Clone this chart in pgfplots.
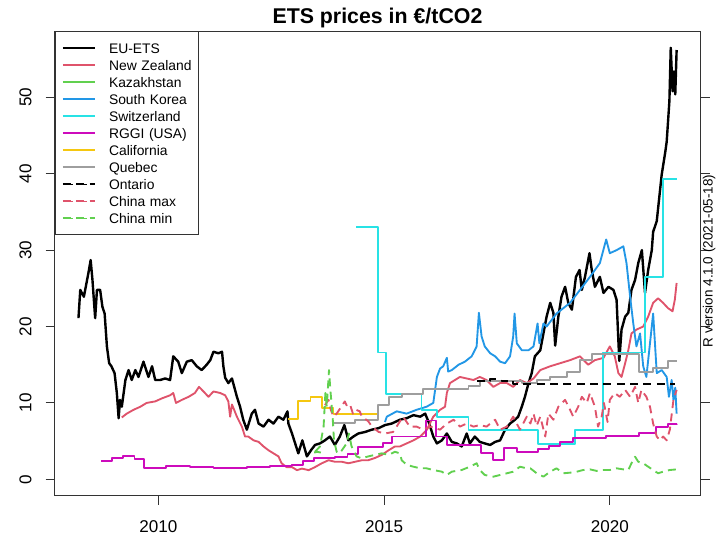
\documentclass[border=0pt]{standalone}
\usepackage{fontspec}
\setmainfont{Liberation Sans}
\usepackage{pgfplots}
\pgfplotsset{compat=1.18}
\definecolor{cNZ}{HTML}{DF536B}
\definecolor{cKZ}{HTML}{61D04F}
\definecolor{cKR}{HTML}{2297E6}
\definecolor{cCH}{HTML}{28E2E5}
\definecolor{cRG}{HTML}{CD0BBC}
\definecolor{cCA}{HTML}{F5C710}
\definecolor{cQC}{HTML}{9E9E9E}
\newcommand\tickfont{\fontsize{12.8}{15}\selectfont}
\begin{document}
\begin{tikzpicture}
\useasboundingbox (0,0) rectangle (537pt,402pt);
\begin{axis}[
  at={(40.9pt,30.2pt)}, anchor=south west,
  width=484.5pt, height=348.5pt, scale only axis,
  xmin=2007.70, xmax=2022.01, ymin=-2.15, ymax=58.68,
  axis line style={line width=0.75pt, black!80},
  tick style={line width=0.75pt, black!80},
  tick align=outside, major tick length=6.75pt,
  xtick={2010,2015,2020}, xticklabels={2010,2015,2020},
  ytick={0,10,20,30,40,50}, yticklabels={0,10,20,30,40,50},
  xtick pos=left, ytick pos=both, yticklabel pos=left,
  /pgf/number format/assume math mode=true,
  xticklabel style={font=\tickfont, anchor=north, inner sep=0pt},
  yticklabel style={font=\tickfont, rotate=90, anchor=south, inner sep=0pt},
  xticklabel shift=12pt, yticklabel shift=10.3pt,
  legend cell align=left,
  legend image code/.code={\path (0pt,0pt) -- (24.2pt,0pt); \draw[#1,line width=0.6pt] (4.2pt,0pt) -- (24.2pt,0pt);},
  legend style={at={(0,1)}, anchor=north west, draw=black!80, line width=0.75pt,
    font=\fontsize{10.4}{12}\selectfont, inner xsep=5pt, inner ysep=6.5pt,
    row sep=0.83pt,
    nodes={inner sep=0pt, text height=9.72pt, text depth=2.2pt, text width=62pt, align=left},
    /tikz/every odd column/.append style={column sep=9.5pt}},
  every axis plot/.append style={line width=1.4pt, line join=round},
]
% EU-ETS
\addplot[black, line width=1.8pt] coordinates {
(2008.23,21.1)(2008.27,24.8)(2008.35,23.9)(2008.45,27.0)(2008.50,28.7)(2008.54,26.1)(2008.60,21.1)(2008.64,24.8)
(2008.71,24.8)(2008.76,22.6)(2008.81,21.7)(2008.86,17.4)(2008.91,15.2)(2008.96,14.8)(2009.03,13.9)(2009.08,11.3)
(2009.12,8.0)(2009.15,10.4)(2009.19,9.5)(2009.27,13.0)(2009.34,14.3)(2009.41,13.0)(2009.49,14.3)(2009.56,13.4)
(2009.67,15.4)(2009.78,13.4)(2009.86,14.8)(2009.93,13.0)(2010.04,13.0)(2010.15,13.2)(2010.26,13.0)(2010.33,16.1)
(2010.44,15.4)(2010.52,13.9)(2010.63,15.4)(2010.74,15.6)(2010.85,14.8)(2010.96,14.3)(2011.07,15.0)(2011.15,15.6)
(2011.22,16.7)(2011.33,16.5)(2011.41,16.7)(2011.44,14.8)(2011.48,13.3)(2011.55,12.6)(2011.63,13.2)(2011.74,10.8)
(2011.81,9.5)(2011.88,7.8)(2011.96,6.5)(2012.07,8.6)(2012.14,9.1)(2012.22,7.3)(2012.33,6.9)(2012.44,7.8)
(2012.55,7.3)(2012.66,8.2)(2012.77,7.8)(2012.86,8.9)(2012.88,7.3)(2012.96,6.0)(2013.03,4.7)(2013.10,3.4)
(2013.19,5.1)(2013.29,3.0)(2013.38,3.8)(2013.47,4.5)(2013.58,4.7)(2013.69,5.1)(2013.80,5.6)(2013.91,4.5)
(2014.02,5.6)(2014.12,7.1)(2014.21,5.1)(2014.32,5.6)(2014.43,6.0)(2014.58,6.2)(2014.73,6.5)(2014.88,6.7)
(2015.02,7.1)(2015.17,7.3)(2015.35,7.8)(2015.50,8.0)(2015.65,8.4)(2015.80,8.2)(2015.91,8.6)(2016.00,7.3)
(2016.09,5.6)(2016.17,4.7)(2016.28,5.1)(2016.39,6.0)(2016.50,4.9)(2016.61,4.7)(2016.72,4.3)(2016.83,6.0)
(2016.90,4.7)(2017.01,5.6)(2017.12,4.9)(2017.23,4.7)(2017.35,4.5)(2017.46,4.9)(2017.57,5.1)(2017.68,6.5)
(2017.79,7.3)(2017.90,7.8)(2017.97,8.2)(2018.05,9.5)(2018.12,10.8)(2018.20,12.6)(2018.27,13.9)(2018.34,16.1)
(2018.46,16.9)(2018.53,19.1)(2018.60,21.3)(2018.68,23.1)(2018.75,21.8)(2018.79,17.5)(2018.86,21.3)(2018.93,23.9)
(2019.01,25.2)(2019.08,23.1)(2019.16,22.2)(2019.25,26.5)(2019.33,27.4)(2019.38,24.8)(2019.45,26.5)(2019.55,29.6)
(2019.60,27.4)(2019.67,25.2)(2019.78,26.5)(2019.86,24.4)(2019.97,25.2)(2020.08,24.8)(2020.15,23.5)(2020.21,15.5)
(2020.26,19.6)(2020.34,21.3)(2020.41,21.8)(2020.48,24.8)(2020.56,26.1)(2020.63,28.3)(2020.71,30.0)(2020.78,24.4)
(2020.85,27.4)(2020.93,30.0)(2020.96,32.4)(2021.04,33.8)(2021.11,37.7)(2021.15,39.9)(2021.23,42.9)(2021.26,44.2)
(2021.32,49.5)(2021.35,56.5)(2021.39,50.8)(2021.42,53.4)(2021.45,50.4)(2021.48,56.2)};
\addlegendentry{EU-ETS}
% New Zealand
\addplot[cNZ] coordinates {
(2009.19,8.1)(2009.30,8.6)(2009.45,9.1)(2009.60,9.5)(2009.74,10.0)(2009.93,10.2)(2010.08,10.6)(2010.26,11.0)
(2010.33,11.3)(2010.39,10.0)(2010.52,10.4)(2010.67,10.8)(2010.81,11.3)(2010.90,12.1)(2011.00,11.5)(2011.11,10.8)
(2011.22,11.5)(2011.37,11.3)(2011.48,11.0)(2011.55,10.2)(2011.59,8.2)(2011.63,9.8)(2011.74,8.2)(2011.85,6.9)
(2011.92,5.6)(2011.99,5.6)(2012.11,5.1)(2012.22,4.9)(2012.33,4.3)(2012.44,3.8)(2012.55,3.4)(2012.66,3.0)
(2012.73,2.1)(2012.84,1.6)(2012.96,1.6)(2013.07,1.2)(2013.18,1.4)(2013.33,1.2)(2013.47,1.6)(2013.62,2.1)
(2013.77,2.5)(2013.91,2.3)(2014.06,2.3)(2014.21,2.1)(2014.36,2.3)(2014.51,2.5)(2014.65,2.5)(2014.80,2.8)
(2014.95,3.2)(2015.10,3.8)(2015.24,4.3)(2015.35,4.3)(2015.50,4.7)(2015.65,5.1)(2015.80,5.6)(2015.95,6.5)
(2016.09,8.2)(2016.24,9.1)(2016.35,9.5)(2016.39,11.3)(2016.46,12.6)(2016.57,13.0)(2016.68,13.4)(2016.83,13.2)
(2016.98,13.0)(2017.12,13.4)(2017.27,13.0)(2017.42,12.1)(2017.57,12.6)(2017.72,12.6)(2017.86,12.1)(2018.01,13.0)
(2018.16,12.6)(2018.31,13.2)(2018.46,14.3)(2018.68,14.8)(2018.90,15.2)(2019.12,15.6)(2019.34,16.1)(2019.52,15.0)
(2019.67,15.6)(2019.86,15.9)(2020.00,17.4)(2020.11,16.1)(2020.19,13.9)(2020.26,13.4)(2020.34,15.2)(2020.41,16.9)
(2020.48,19.1)(2020.59,19.6)(2020.74,20.0)(2020.85,21.3)(2020.96,23.1)(2021.07,23.7)(2021.18,23.1)(2021.29,22.4)
(2021.39,22.0)(2021.44,23.5)(2021.48,25.7)};
\addlegendentry{New Zealand}
% Kazakhstan
\addplot[cKZ] coordinates {(2013.45,3.5)(2013.52,3.6)(2013.60,3.5)};
\addlegendentry{Kazakhstan}
% South Korea
\addplot[cKR] coordinates {
(2015.02,7.5)(2015.06,8.2)(2015.28,8.9)(2015.50,8.6)(2015.72,9.1)(2015.94,9.5)(2016.09,10.0)(2016.17,13.4)
(2016.24,14.5)(2016.31,14.8)(2016.39,15.9)(2016.42,14.1)(2016.50,14.3)(2016.65,15.0)(2016.79,15.4)(2016.94,16.1)
(2017.05,17.4)(2017.10,21.8)(2017.16,18.7)(2017.23,17.4)(2017.35,16.5)(2017.46,16.1)(2017.57,15.4)(2017.68,15.2)
(2017.79,16.1)(2017.86,18.7)(2017.89,21.7)(2017.94,17.8)(2018.05,16.9)(2018.20,16.9)(2018.31,17.4)(2018.40,20.4)
(2018.44,17.8)(2018.53,20.4)(2018.60,20.0)(2018.82,21.7)(2019.12,23.1)(2019.34,24.8)(2019.56,26.5)(2019.78,28.3)
(2019.92,31.4)(2020.00,29.6)(2020.15,30.0)(2020.30,30.5)(2020.37,28.3)(2020.45,23.9)(2020.52,20.4)(2020.59,17.4)
(2020.67,19.1)(2020.74,14.8)(2020.81,13.4)(2020.89,17.8)(2020.96,21.7)(2021.04,13.9)(2021.15,14.3)(2021.26,13.4)
(2021.31,10.8)(2021.37,13.0)(2021.41,10.4)(2021.45,12.0)(2021.48,8.6)};
\addlegendentry{South Korea}
% Switzerland
\addplot[cCH, const plot] coordinates {
(2014.38,33.0)(2014.86,16.6)(2015.04,11.2)(2015.83,9.1)(2016.17,8.2)(2016.87,6.4)(2018.40,4.6)(2019.23,6.5)
(2019.84,16.6)(2020.78,26.5)(2021.17,39.3)(2021.48,39.3)};
\addlegendentry{Switzerland}
% RGGI
\addplot[cRG, const plot] coordinates {
(2008.73,2.4)(2008.97,2.75)(2009.21,3.05)(2009.47,2.66)(2009.69,1.44)(2010.17,1.74)(2010.70,1.62)(2011.22,1.48)
(2011.96,1.62)(2012.48,1.74)(2012.95,1.83)(2013.20,2.4)(2013.45,2.83)(2013.91,2.96)(2014.19,3.27)(2014.43,4.27)
(2014.97,4.7)(2015.18,5.6)(2015.92,7.7)(2016.15,5.6)(2016.40,4.5)(2017.14,3.4)(2017.42,2.53)(2017.66,4.06)
(2017.94,3.6)(2018.40,3.97)(2018.66,4.36)(2018.90,4.93)(2019.19,5.37)(2019.92,5.67)(2020.65,6.11)(2021.03,6.9)
(2021.28,7.25)(2021.48,7.3)};
\addlegendentry{RGGI (USA)}
% California
\addplot[cCA, const plot] coordinates {
(2012.87,7.9)(2013.10,10.2)(2013.37,10.8)(2013.62,9.3)(2013.88,8.6)(2014.87,8.6)};
\addlegendentry{California}
% Quebec
\addplot[cQC, const plot] coordinates {
(2013.88,7.4)(2014.36,7.8)(2014.87,9.7)(2015.10,10.8)(2015.40,11.2)(2015.87,11.8)(2016.87,12.2)(2017.12,12.9)
(2018.05,12.6)(2018.38,13.0)(2018.68,13.4)(2019.05,14.1)(2019.34,15.6)(2019.60,16.4)(2020.64,14.1)(2020.96,14.6)
(2021.29,15.5)(2021.48,15.5)};
\addlegendentry{Quebec}
% Ontario
\addplot[black, const plot, dash pattern=on 6pt off 4pt,
  legend image code/.code={\path (0pt,0pt) -- (24.2pt,0pt); \draw[black,line width=0.6pt,dash pattern=on 3pt off 2.5pt] (4.2pt,0pt) -- (24.2pt,0pt);}]
  coordinates {(2017.05,12.9)(2017.35,13.1)(2017.60,12.9)(2017.86,12.45)(2021.45,12.45)};
\addlegendentry{Ontario}
% China max
\addplot[cNZ, dash pattern=on 6pt off 4pt,
  legend image code/.code={\path (0pt,0pt) -- (24.2pt,0pt); \draw[cNZ,line width=0.6pt,dash pattern=on 3pt off 2.5pt] (4.2pt,0pt) -- (24.2pt,0pt);}]
  coordinates {
(2013.69,9.7)(2013.77,10.4)(2013.82,9.1)(2013.88,8.2)(2013.95,8.6)(2014.04,9.4)(2014.13,10.2)(2014.17,9.7)
(2014.24,9.9)(2014.31,8.6)(2014.38,9.1)(2014.46,8.9)(2014.51,8.2)(2014.65,7.6)(2014.73,6.9)(2014.88,6.2)
(2015.02,6.0)(2015.20,6.2)(2015.42,8.2)(2015.57,6.9)(2015.72,6.9)(2015.87,6.5)(2016.02,6.9)(2016.24,6.5)
(2016.39,7.3)(2016.54,7.8)(2016.68,6.9)(2016.83,7.3)(2016.98,6.9)(2017.12,7.1)(2017.27,6.9)(2017.46,7.8)
(2017.57,6.5)(2017.72,6.9)(2017.86,8.2)(2018.01,6.5)(2018.16,8.2)(2018.24,7.3)(2018.31,8.6)(2018.38,7.0)
(2018.46,8.2)(2018.57,5.6)(2018.64,8.6)(2018.75,7.8)(2018.86,9.5)(2019.01,10.4)(2019.12,9.1)(2019.19,8.2)
(2019.30,9.5)(2019.38,10.8)(2019.49,10.0)(2019.56,11.3)(2019.67,9.5)(2019.74,6.9)(2019.82,8.2)(2019.87,10.0)
(2019.95,7.5)(2020.00,10.4)(2020.11,11.3)(2020.22,10.8)(2020.34,11.7)(2020.45,10.8)(2020.56,12.1)(2020.63,10.0)
(2020.70,11.7)(2020.81,10.8)(2020.89,9.5)(2020.96,7.3)(2021.04,5.6)(2021.11,5.1)(2021.18,5.6)(2021.26,5.1)
(2021.33,6.5)(2021.41,10.4)(2021.48,11.7)};
\addlegendentry{China max}
% China min
\addplot[cKZ, dash pattern=on 6pt off 4pt,
  legend image code/.code={\path (0pt,0pt) -- (24.2pt,0pt); \draw[cKZ,line width=0.6pt,dash pattern=on 3pt off 2.5pt] (4.2pt,0pt) -- (24.2pt,0pt);}]
  coordinates {
(2013.47,3.6)(2013.58,4.3)(2013.66,6.9)(2013.70,11.3)(2013.73,9.5)(2013.78,14.3)(2013.81,11.7)(2013.86,8.2)
(2013.89,5.1)(2013.95,3.6)(2014.02,3.4)(2014.10,4.1)(2014.17,4.7)(2014.22,6.0)(2014.28,4.3)(2014.39,3.0)
(2014.50,2.75)(2014.65,3.0)(2014.80,3.2)(2014.95,3.4)(2015.10,3.2)(2015.24,3.6)(2015.35,3.4)(2015.39,2.5)
(2015.50,1.9)(2015.65,1.65)(2015.80,1.44)(2015.94,1.44)(2016.09,1.22)(2016.28,1.0)(2016.39,0.57)(2016.50,1.0)
(2016.72,1.22)(2016.90,1.65)(2017.05,2.1)(2017.12,1.22)(2017.23,0.57)(2017.42,0.35)(2017.57,0.57)(2017.72,0.79)
(2017.86,1.0)(2018.01,1.65)(2018.16,1.44)(2018.24,1.44)(2018.38,0.79)(2018.53,0.35)(2018.68,1.0)(2018.82,1.44)
(2018.97,0.79)(2019.12,0.87)(2019.27,1.0)(2019.41,1.22)(2019.56,1.3)(2019.71,1.1)(2019.86,1.22)(2020.00,1.22)
(2020.15,1.44)(2020.30,1.3)(2020.41,1.22)(2020.48,2.1)(2020.56,2.96)(2020.63,2.3)(2020.74,2.1)(2020.85,1.65)
(2020.96,1.22)(2021.07,0.79)(2021.18,1.0)(2021.33,1.22)(2021.48,1.3)};
\addlegendentry{China min}
\end{axis}
\node[font=\bfseries\fontsize{16}{19}\selectfont, anchor=base] at (283.1pt,384pt) {ETS prices in €/tCO2};
\node[rotate=90, anchor=base, font=\fontsize{10.1}{12}\selectfont] at (534.4pt,206.25pt) {R version 4.1.0 (2021-05-18)};
\end{tikzpicture}
\end{document}
